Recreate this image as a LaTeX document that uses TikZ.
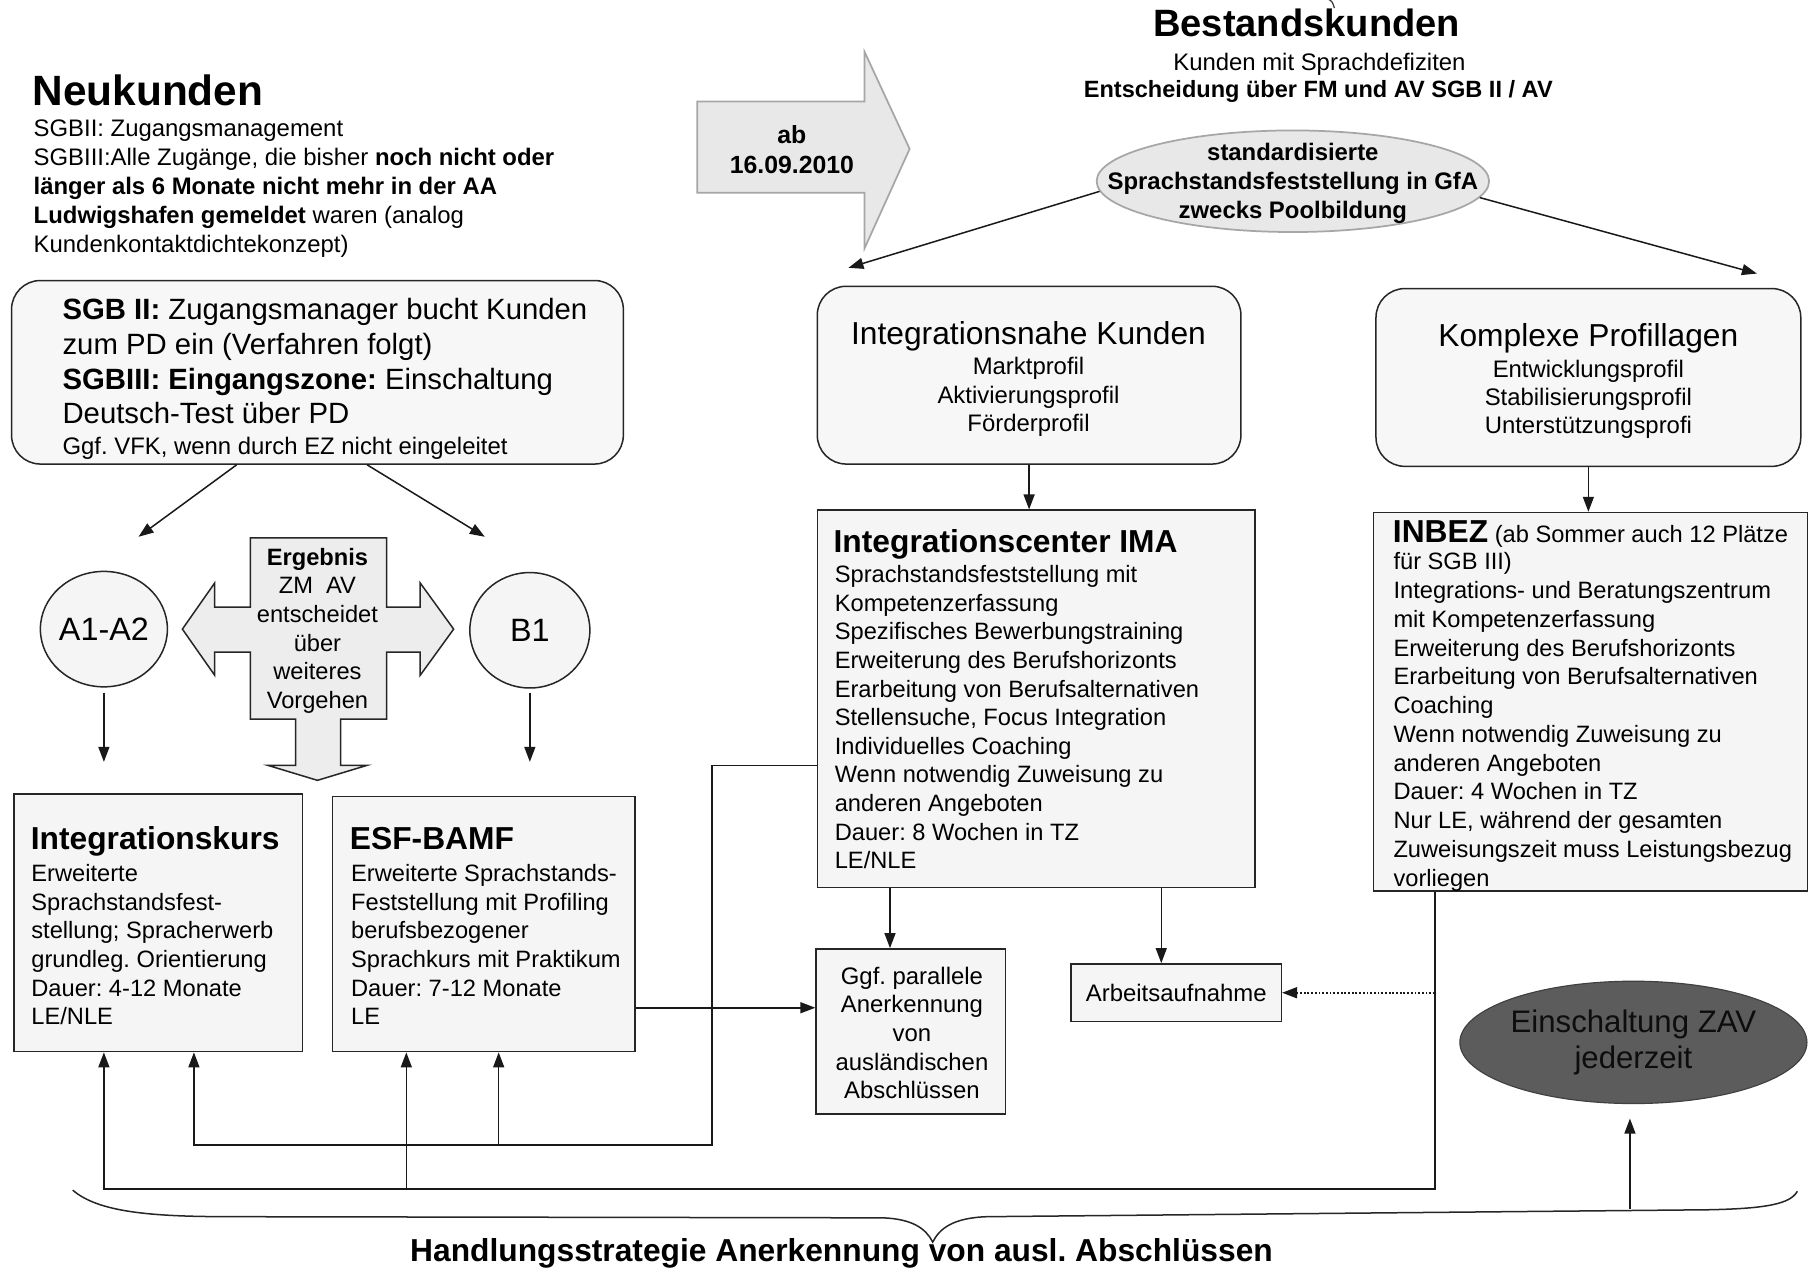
\documentclass[tikz,border=0pt]{standalone}
\usepackage{fontspec}
\setmainfont{Liberation Sans}
\usetikzlibrary{arrows.meta,shapes.geometric}
\newcommand{\fsz}[2]{\fontsize{#1}{#2}\selectfont}
\newcommand{\fl}{\rule{0pt}{1em}}
\frenchspacing
\begin{document}
\begin{tikzpicture}[x=1pt,y=-1pt,
  frame/.style={draw=black!85,line width=1.3pt,fill=black!4,inner sep=0pt},
  rframe/.style={frame,rounded corners=25pt,fill=black!3},
  oval/.style={ellipse,draw=black!85,line width=1.3pt,fill=black!4,inner sep=0pt},
  arr/.style={-{Triangle[length=13pt,width=9.5pt]},line width=1.3pt,draw=black!90},
  txt/.style={inner sep=0pt,align=left,anchor=north west},
  ctxt/.style={inner sep=0pt,align=center,anchor=north},
  one/.style={inner sep=0pt,anchor=base west},
  onec/.style={inner sep=0pt,anchor=base},
  body/.style={font=\fsz{20.5}{24.8}},
  head/.style={font=\fsz{27.5}{30}\bfseries},
]
\useasboundingbox[fill=white] (0,0) rectangle (1568,1100);

% ---------- shapes ----------
\node[rframe,minimum width=530pt,minimum height=159pt] (sgb) at (275,322.5) {};
\node[oval,minimum width=104pt,minimum height=100pt,font=\fsz{28}{30}] (a1) at (90,545) {A1-A2};
\node[oval,minimum width=104pt,minimum height=100pt,font=\fsz{28}{30}] (b1) at (459,546) {B1};
\node[frame,minimum width=250pt,minimum height=223pt] (ikurs) at (137,799.5) {};
\node[frame,minimum width=262pt,minimum height=221pt] (esf) at (419,800.5) {};
\node[rframe,minimum width=367pt,minimum height=154pt] (inah) at (891.5,325) {};
\node[rframe,minimum width=368pt,minimum height=154pt] (kompl) at (1376,327) {};
\node[frame,minimum width=379pt,minimum height=327pt] (ima) at (897.5,605.5) {};
\node[frame,minimum width=376pt,minimum height=328pt] (inbez) at (1378,608) {};
\node[frame,minimum width=164pt,minimum height=143pt] (ggf) at (789,893.5) {};
\node[frame,minimum width=182pt,minimum height=50pt,font=\fsz{20.7}{24}] (arb) at (1019,860) {Arbeitsaufnahme};
\node[ellipse,fill=black!64,draw=black!75,line width=1pt,minimum width=244pt,minimum height=106pt,inner sep=0pt,align=center,font=\fsz{27}{31},text=black!95] (zav) at (1415,903) {Einschaltung ZAV\\jederzeit};
\node[ellipse,draw=black!35,line width=1.5pt,fill=black!9,minimum width=340pt,minimum height=88pt,inner sep=0pt] (pool) at (1120,157) {};

% ab arrow
\draw[draw=black!35,line width=1.5pt,fill=black!9] (604,88) -- (749,88) -- (749,45) -- (788,129) -- (749,215) -- (749,167) -- (604,167) -- cycle;

% cross-shaped arrow
\draw[draw=black!85,line width=1.3pt,fill=black!7]
  (217,466) -- (335,466) -- (335,526) -- (364,526) -- (364,505) -- (393,545)
  -- (364,585) -- (364,565) -- (335,565) -- (335,623) -- (295,623) -- (295,663)
  -- (318,663) -- (275,676) -- (232,663) -- (256,663) -- (256,623) -- (217,623)
  -- (217,565) -- (186,565) -- (186,585) -- (158,545) -- (186,505) -- (186,526)
  -- (217,526) -- cycle;

% ---------- texts ----------
\node[one,font=\fsz{36.7}{40}\bfseries] (neu) at (28,91) {Neukunden};
\node[txt,font=\fsz{20.7}{25.2}] (neutxt) at (29,97.3) {\fl SGBII: Zugangsmanagement\\
SGBIII:Alle Zugänge, die bisher \textbf{noch nicht oder}\\
\textbf{länger als 6 Monate nicht mehr in der AA}\\
\textbf{Ludwigshafen gemeldet} waren (analog\\
Kundenkontaktdichtekonzept)};

\node[txt,font=\fsz{25.4}{30}] (sgbtxt) at (54,251.6) {\fl\textbf{SGB II:} Zugangsmanager bucht Kunden\\
zum PD ein (Verfahren folgt)\\
\textbf{SGBIII: Eingangszone:} Einschaltung\\
Deutsch-Test über PD};
\node[one,font=\fsz{20.7}{24}] (sgbtxt2) at (54,394) {Ggf. VFK, wenn durch EZ nicht eingeleitet};

\node[ctxt,font=\fsz{20.5}{24.8}] (cross) at (275,469) {\fl\textbf{Ergebnis}\\ZM~~AV\\entscheidet\\über\\weiteres\\Vorgehen};

\node[one,head] (ikursh) at (26.5,736) {Integrationskurs};
\node[txt,body] (ikurst) at (27,743) {\fl Erweiterte\\Sprachstandsfest-\\stellung; Spracherwerb\\grundleg. Orientierung\\Dauer: 4-12 Monate\\LE/NLE};
\node[one,head] (esfh) at (303,736) {ESF-BAMF};
\node[txt,body] (esft) at (304,743) {\fl Erweiterte Sprachstands-\\Feststellung mit Profiling\\berufsbezogener\\Sprachkurs mit Praktikum\\Dauer: 7-12 Monate\\LE};

\node[onec,font=\fsz{33}{36}\bfseries] (best) at (1132,32) {Bestandskunden};
\node[onec,font=\fsz{20.7}{24}] (best1) at (1143,61.5) {Kunden mit Sprachdefiziten};
\node[onec,font=\fsz{20.4}{24}\bfseries] (best2) at (1142,84.5) {Entscheidung über FM und AV SGB II / AV};

\node[ctxt,font=\fsz{21.5}{26}\bfseries] (ab) at (686,103) {\fl ab\\16.09.2010};
\node[ctxt,font=\fsz{20.7}{25}\bfseries] (pooltxt) at (1120,118.3) {\fl standardisierte\\Sprachstandsfeststellung in GfA\\zwecks Poolbildung};

\node[onec,font=\fsz{27.5}{30}] (inahh) at (891,298.5) {Integrationsnahe Kunden};
\node[ctxt,font=\fsz{20.7}{24.5}] (inaht) at (891,303.8) {\fl Marktprofil\\Aktivierungsprofil\\Förderprofil};
\node[onec,font=\fsz{27.5}{30}] (komplh) at (1376,300.5) {Komplexe Profillagen};
\node[ctxt,font=\fsz{20.7}{24.5}] (komplt) at (1376,305.8) {\fl Entwicklungsprofil\\Stabilisierungsprofil\\Unterstützungsprofi};

\node[one,head] (imah) at (722,478.5) {Integrationscenter IMA};
\node[txt,body] (imat) at (723,484) {\fl Sprachstandsfeststellung mit\\Kompetenzerfassung\\Spezifisches Bewerbungstraining\\Erweiterung des Berufshorizonts\\Erarbeitung von Berufsalternativen\\Stellensuche, Focus Integration\\Individuelles Coaching\\Wenn notwendig Zuweisung zu\\anderen Angeboten\\Dauer: 8 Wochen in TZ\\LE/NLE};

\node[one,font=\fsz{20.5}{24}] (inbezh) at (1206.5,470) {{\fsz{27.5}{30}\bfseries INBEZ} (ab Sommer auch 12 Plätze};
\node[txt,font=\fsz{20.5}{24.9}] (inbezt) at (1207,473) {\fl für SGB III)\\Integrations- und Beratungszentrum\\mit Kompetenzerfassung\\Erweiterung des Berufshorizonts\\Erarbeitung von Berufsalternativen\\Coaching\\Wenn notwendig Zuweisung zu\\anderen Angeboten\\Dauer: 4 Wochen in TZ\\Nur LE, während der gesamten\\Zuweisungszeit muss Leistungsbezug\\vorliegen};

\node[ctxt,font=\fsz{20.7}{24.75}] (ggft) at (790,831.8) {\fl Ggf. parallele\\Anerkennung\\von\\ausländischen\\Abschlüssen};

\node[onec,font=\fsz{27.5}{30}\bfseries] (hand) at (729,1093) {Handlungsstrategie Anerkennung von ausl. Abschlüssen};

% ---------- free ends ----------
\coordinate (a1in) at (120,465);
\coordinate (b1in) at (420,465);
\coordinate (a1o) at (90,600);
\coordinate (a1e) at (90,660);
\coordinate (b1o) at (459,600);
\coordinate (b1e) at (459,660);
\coordinate (inahin) at (735,232);
\coordinate (komplin) at (1522,237);
\coordinate (zavfoot) at (1412,1047);
\coordinate (zavin) at (1412,969);

% ---------- connectors ----------
\draw[arr] (sgb.south -| 205,0) -- (a1in);
\draw[arr] (sgb.south -| 318,0) -- (b1in);
\draw[arr] (a1o) -- (a1e);
\draw[arr] (b1o) -- (b1e);
\draw[arr] (pool.183) -- (inahin);
\draw[arr] (pool.355) -- (komplin);
\draw[arr] (inah.south) -- (ima.north -| inah.south);
\draw[arr] (kompl.south) -- (inbez.north -| kompl.south);
\draw[arr] (ima.south -| 771,0) -- (ggf.north -| 771,0);
\draw[arr] (ima.south -| 1006,0) -- (arb.north -| 1006,0);
\draw[arr] (esf.east |- 0,873) -- (ggf.west |- 0,873);
\draw[arr,dash pattern=on 1.6pt off 1.6pt,line width=1.5pt] (1243,0 |- arb.east) -- (arb.east);
\draw[arr] (ima.west |- 0,663) -- (617,663) -- (617,992) -- (168,992) -- (ikurs.south -| 168,0);
\draw[arr] (432,992) -- (esf.south -| 432,0);
\draw[arr] (inbez.south -| 1243,0) -- (1243,1030) -- (90,1030) -- (ikurs.south -| 90,0);
\draw[arr] (352,1030) -- (esf.south -| 352,0);
\draw[arr] (zavfoot) -- (zavin);

% brace
\draw[line width=1.3pt,black!85] (63,1031) .. controls (85,1050) and (130,1054) .. (200,1054) -- (765,1055)
  .. controls (790,1056) and (802,1064) .. (808,1076) .. controls (814,1064) and (826,1055) .. (855,1054)
  -- (1480,1048) .. controls (1530,1047) and (1551,1043) .. (1557,1032);
% small mark at top
\draw[line width=1pt,black!80] (1150,-1) .. controls (1154,1) .. (1156,7);
\end{tikzpicture}
\end{document}
